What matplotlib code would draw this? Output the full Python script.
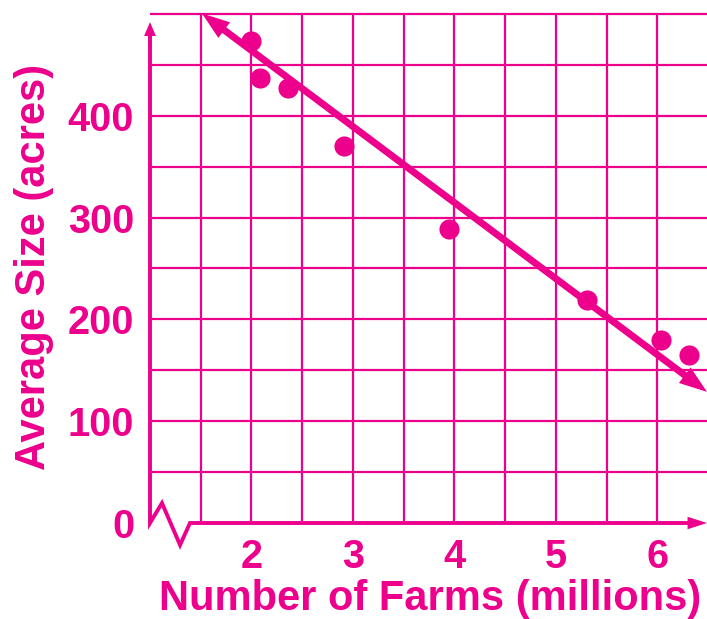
import numpy as np
import matplotlib.pyplot as plt

# data
farms = [2.0, 2.08, 2.36, 2.91, 3.95, 5.31, 6.03, 6.31]   # millions
size = [473, 437, 427, 370, 289, 219, 180, 165]          # acres
trend_x = [1.512, 6.488]
trend_y = [500.5, 128.8]
x_ticks = [2, 3, 4, 5, 6]
y_ticks = [0, 100, 200, 300, 400]

pink = '#EC008C'
plt.rcParams['font.family'] = ['Liberation Sans', 'DejaVu Sans']

fig = plt.figure(figsize=(7.07, 6.19), dpi=100)
ax = fig.add_axes([150/707, 96/619, 557/707, 518/619])
ax.set_xlim(1.0, 6.488)
ax.set_ylim(0, 508.8)
for s in ax.spines.values():
    s.set_visible(False)

# grid
ax.hlines(np.arange(50, 501, 50), 1.0, 6.6, color=pink, lw=1.6, zorder=1)
ax.vlines(np.arange(1.5, 6.01, 0.5), 0, 500, color=pink, lw=1.6, zorder=1)

# axes with the break
ax.plot([1.0, 1.0, 1.118, 1.296, 1.394, 6.40], [480, 0, 19.6, -21.6, 0, 0],
        color=pink, lw=2.8, clip_on=False, zorder=2, solid_joinstyle='miter')
ax.annotate('', xy=(1.0, 492), xytext=(1.0, 470),
            arrowprops=dict(arrowstyle='simple,head_length=1.0,head_width=0.85,tail_width=0.2',
                            color=pink, lw=0, shrinkA=0, shrinkB=0, mutation_scale=10),
            annotation_clip=False)
ax.annotate('', xy=(6.488, 0), xytext=(6.3, 0),
            arrowprops=dict(arrowstyle='simple,head_length=1.4,head_width=0.9,tail_width=0.2',
                            color=pink, lw=0, shrinkA=0, shrinkB=0, mutation_scale=10),
            annotation_clip=False)

# trend line, arrow at both ends
mid = (np.mean(trend_x), np.mean(trend_y))
for i in range(2):
    ax.annotate('', xy=(trend_x[i], trend_y[i]), xytext=mid,
                arrowprops=dict(arrowstyle='simple,head_length=2.0,head_width=1.4,tail_width=0.5',
                                color=pink, lw=0, shrinkA=0, shrinkB=0, mutation_scale=10),
                annotation_clip=False, zorder=3)

ax.plot(farms, size, 'o', color=pink, ms=14.5, mec='none', zorder=4, clip_on=False)

ax.set_xticks(x_ticks)
ax.set_yticks(y_ticks)
ax.tick_params(length=0, labelcolor=pink, labelsize=28.5)
ax.tick_params(axis='x', pad=10.5)
ax.tick_params(axis='y', pad=11.5)
for t in ax.get_xticklabels() + ax.get_yticklabels():
    t.set_fontweight('bold')

fig.text(430/707, 1 - 610/619, 'Number of Farms (millions)', color=pink, fontsize=30,
         fontweight='bold', ha='center', va='baseline')
fig.text(45/707, 1 - 266.5/619, 'Average Size (acres)', color=pink, fontsize=30,
         fontweight='bold', ha='center', va='baseline', rotation=90, rotation_mode='anchor')

fig.savefig('out.png', dpi=100)
